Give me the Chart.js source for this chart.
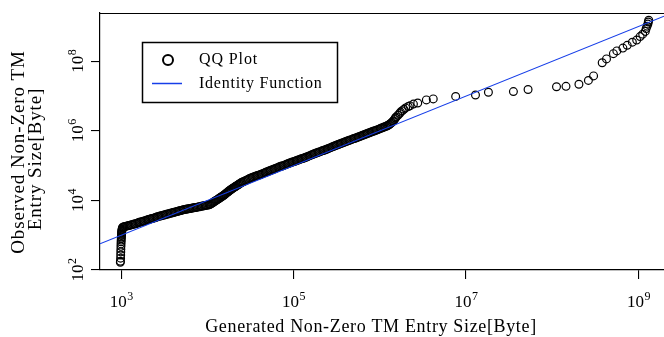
<!DOCTYPE html>
<html>
<head>
<meta charset="utf-8">
<script src="https://cdn.jsdelivr.net/npm/chart.js@4.4.1/dist/chart.umd.min.js"></script>
<style>
html, body { margin: 0; padding: 0; background: #fff; }
#wrap { width: 664px; height: 337px; position: relative; }
</style>
</head>
<body>
<div id="wrap"><canvas id="qq" width="664" height="337"></canvas></div>
<script>
// Quantile pairs, stored as log10(bytes): generated (x) vs observed (y)
const lowerTailGen = [2.990, 2.991, 2.993, 2.994, 2.995, 2.996, 2.997, 2.998, 2.999, 3.000, 3.001, 3.002, 3.003, 3.004, 3.005, 3.006, 3.007, 3.009, 3.011, 3.014, 3.018];
const lowerTailObs = [2.22, 2.25, 2.34, 2.43, 2.52, 2.60, 2.68, 2.75, 2.81, 2.86, 2.91, 2.95, 2.99, 3.03, 3.06, 3.09, 3.12, 3.15, 3.18, 3.21, 3.23];

const bodyLowGen = [
  3.030, 3.045, 3.060, 3.075, 3.090, 3.105, 3.120, 3.135, 3.150, 3.165,
  3.180, 3.195, 3.210, 3.225, 3.240, 3.255, 3.270, 3.285, 3.300, 3.315,
  3.330, 3.345, 3.360, 3.375, 3.390, 3.405, 3.420, 3.435, 3.450, 3.465,
  3.480, 3.495, 3.510, 3.525, 3.540, 3.555, 3.570, 3.585, 3.600, 3.615,
  3.630, 3.645, 3.660, 3.675, 3.690, 3.705, 3.720, 3.735, 3.750, 3.765,
  3.780, 3.795, 3.810, 3.825, 3.840, 3.855, 3.870, 3.885, 3.900, 3.915,
  3.930, 3.945, 3.960, 3.975, 3.990, 4.005, 4.020,
  4.03, 4.04, 4.05, 4.06, 4.07, 4.08, 4.09, 4.10, 4.11, 4.12,
  4.13, 4.14, 4.15, 4.16, 4.17, 4.18, 4.19, 4.20, 4.21, 4.22,
  4.23, 4.24, 4.25, 4.26, 4.27, 4.28, 4.29, 4.30, 4.31, 4.32,
  4.33, 4.34, 4.35, 4.36, 4.37, 4.38, 4.39, 4.40];
const bodyLowObs = [
  3.24, 3.25, 3.26, 3.27, 3.28, 3.29, 3.30, 3.31, 3.32, 3.33,
  3.34, 3.355, 3.37, 3.38, 3.39, 3.40, 3.41, 3.425, 3.44, 3.45,
  3.46, 3.47, 3.48, 3.49, 3.50, 3.515, 3.53, 3.54, 3.55, 3.56,
  3.57, 3.58, 3.59, 3.60, 3.61, 3.62, 3.63, 3.64, 3.65, 3.66,
  3.67, 3.68, 3.69, 3.70, 3.71, 3.72, 3.73, 3.737, 3.745, 3.752,
  3.76, 3.765, 3.77, 3.78, 3.79, 3.795, 3.80, 3.807, 3.815, 3.822,
  3.83, 3.837, 3.845, 3.852, 3.86, 3.867, 3.875,
  3.887, 3.90, 3.915, 3.93, 3.95, 3.97, 3.985, 4.00, 4.015, 4.03,
  4.048, 4.065, 4.083, 4.10, 4.115, 4.13, 4.15, 4.17, 4.19, 4.21,
  4.23, 4.25, 4.27, 4.29, 4.307, 4.325, 4.343, 4.36, 4.375, 4.39,
  4.407, 4.425, 4.44, 4.455, 4.472, 4.49, 4.505, 4.52];

const bodyHighGen = [
  4.415, 4.430, 4.445, 4.460, 4.475, 4.490, 4.505, 4.520, 4.535, 4.550,
  4.565, 4.580, 4.595, 4.610, 4.625, 4.640, 4.655, 4.670, 4.685, 4.700,
  4.715, 4.730, 4.745, 4.760, 4.775, 4.790, 4.805, 4.820, 4.835, 4.850,
  4.865, 4.880, 4.895, 4.910, 4.925, 4.940, 4.955, 4.970, 4.985, 5.000,
  5.015, 5.030, 5.045, 5.060, 5.075, 5.090, 5.105, 5.120, 5.135, 5.150,
  5.165, 5.180, 5.195, 5.210, 5.225, 5.240, 5.255, 5.270, 5.285, 5.300,
  5.315, 5.330, 5.345, 5.360, 5.375, 5.390, 5.405, 5.420, 5.435, 5.450,
  5.465, 5.480, 5.495, 5.510, 5.525, 5.540, 5.555, 5.570, 5.585, 5.600,
  5.615, 5.630, 5.645, 5.660, 5.675, 5.690, 5.705, 5.720, 5.735, 5.750,
  5.765, 5.780, 5.795, 5.810, 5.825, 5.840, 5.855, 5.870, 5.885, 5.900,
  5.915, 5.930, 5.945, 5.960, 5.975, 5.990, 6.005, 6.020, 6.035, 6.050,
  6.065, 6.080,
  6.09, 6.10, 6.11, 6.12, 6.13, 6.14];
const bodyHighObs = [
  4.537, 4.555, 4.572, 4.59, 4.61, 4.63, 4.645, 4.66, 4.675, 4.69,
  4.702, 4.715, 4.727, 4.74, 4.755, 4.77, 4.785, 4.80, 4.815, 4.83,
  4.845, 4.86, 4.875, 4.89, 4.905, 4.92, 4.935, 4.95, 4.965, 4.98,
  4.99, 5.00, 5.015, 5.03, 5.045, 5.06, 5.075, 5.09, 5.102, 5.115,
  5.127, 5.14, 5.155, 5.17, 5.182, 5.195, 5.207, 5.22, 5.235, 5.25,
  5.265, 5.28, 5.295, 5.31, 5.325, 5.34, 5.355, 5.37, 5.382, 5.395,
  5.41, 5.425, 5.437, 5.45, 5.465, 5.48, 5.495, 5.51, 5.525, 5.54,
  5.555, 5.57, 5.585, 5.60, 5.615, 5.63, 5.642, 5.655, 5.67, 5.685,
  5.70, 5.715, 5.727, 5.74, 5.755, 5.77, 5.782, 5.795, 5.81, 5.825,
  5.837, 5.85, 5.865, 5.88, 5.895, 5.91, 5.925, 5.94, 5.952, 5.965,
  5.98, 5.995, 6.007, 6.02, 6.035, 6.05, 6.065, 6.08, 6.095, 6.11,
  6.125, 6.14,
  6.152, 6.165, 6.182, 6.20, 6.222, 6.245];

const upperTailGen = [6.15, 6.16, 6.17, 6.18, 6.19, 6.21, 6.23, 6.24, 6.26, 6.28, 6.30, 6.33, 6.35, 6.39, 6.44, 6.54, 6.62, 6.88, 7.11, 7.26, 7.55,
  7.72, 8.05, 8.16, 8.31, 8.42, 8.48, 8.58, 8.63, 8.71, 8.75, 8.82, 8.87, 8.93, 8.98, 9.02, 9.05, 9.08, 9.09, 9.10, 9.11, 9.115, 9.12];
const upperTailObs = [6.267, 6.29, 6.33, 6.37, 6.40, 6.45, 6.50, 6.54, 6.58, 6.62, 6.66, 6.70, 6.72, 6.77, 6.80, 6.89, 6.92, 6.99, 7.03, 7.11, 7.13,
  7.19, 7.27, 7.28, 7.34, 7.45, 7.58, 7.96, 8.07, 8.22, 8.30, 8.38, 8.46, 8.55, 8.61, 8.71, 8.78, 8.86, 8.94, 9.01, 9.07, 9.13, 9.18];

// Decade exponents that carry a tick and a label
const xTickExp = [3, 5, 7, 9];
const yTickExp = [2, 4, 6, 8];

const xLabel = 'Generated Non-Zero TM Entry Size[Byte]';
const yLabelLines = ['Observed Non-Zero TM', 'Entry Size[Byte]'];
const legendLabels = ['QQ Plot', 'Identity Function'];

const SERIF = '"Liberation Serif", "DejaVu Serif", serif';
const LINE_BLUE = 'rgb(22, 62, 232)';

function toPoints(genArr, obsArr) {
  return genArr.map((g, i) => ({ x: Math.pow(10, g), y: Math.pow(10, obsArr[i]) }));
}
const qqPoints = [].concat(
  toPoints(lowerTailGen, lowerTailObs),
  toPoints(bodyLowGen, bodyLowObs),
  toPoints(bodyHighGen, bodyHighObs),
  toPoints(upperTailGen, upperTailObs)
);

const X_MIN = Math.pow(10, 2.754), X_MAX = Math.pow(10, 9.297);
const Y_MIN = Math.pow(10, 2.0),   Y_MAX = Math.pow(10, 9.389);

// Draws "10" with a raised exponent, centred on (cx, baseline)
function drawPower(ctx, exp, cx, baseline) {
  ctx.font = '17px ' + SERIF;
  const w1 = ctx.measureText('10').width;
  ctx.font = '12px ' + SERIF;
  const w2 = ctx.measureText(String(exp)).width;
  const start = cx - (w1 + w2) / 2;
  ctx.font = '17px ' + SERIF;
  ctx.fillText('10', start, baseline);
  ctx.font = '12px ' + SERIF;
  ctx.fillText(String(exp), start + w1 + 0.5, baseline - 7);
}

const decorations = {
  id: 'decorations',
  afterDraw(chart) {
    const ctx = chart.ctx;
    const area = chart.chartArea;
    const xs = chart.scales.x, ys = chart.scales.y;
    ctx.save();
    ctx.fillStyle = '#000';
    ctx.strokeStyle = '#000';
    ctx.textAlign = 'left';
    ctx.textBaseline = 'alphabetic';

    // top frame line
    ctx.lineWidth = 1.2;
    ctx.beginPath();
    ctx.moveTo(area.left, area.top + 0.5);
    ctx.lineTo(area.right, area.top + 0.5);
    ctx.stroke();

    // x tick labels
    xTickExp.forEach(e => drawPower(ctx, e, xs.getPixelForValue(Math.pow(10, e)), 307));

    // y tick labels, rotated to read upwards
    yTickExp.forEach(e => {
      ctx.save();
      ctx.translate(83, ys.getPixelForValue(Math.pow(10, e)));
      ctx.rotate(-Math.PI / 2);
      drawPower(ctx, e, 0, 0);
      ctx.restore();
    });

    // axis titles
    ctx.font = '18px ' + SERIF;
    ctx.letterSpacing = '0.65px';
    ctx.textAlign = 'center';
    ctx.fillText(xLabel, 371, 332);

    ctx.font = '19px ' + SERIF;
    ctx.letterSpacing = '0.9px';
    const yCentres = [[24, 152], [41, 159]];
    yLabelLines.forEach((line, i) => {
      ctx.save();
      ctx.translate(yCentres[i][0], yCentres[i][1]);
      ctx.rotate(-Math.PI / 2);
      ctx.fillText(line, 0, 0);
      ctx.restore();
    });

    // legend box
    ctx.letterSpacing = '0px';
    ctx.lineWidth = 1.5;
    ctx.strokeRect(142.5, 42.5, 195, 60);
    ctx.lineWidth = 2;
    ctx.beginPath();
    ctx.arc(168, 60, 5, 0, Math.PI * 2);
    ctx.stroke();
    ctx.strokeStyle = LINE_BLUE;
    ctx.lineWidth = 1.5;
    ctx.beginPath();
    ctx.moveTo(152, 83.5);
    ctx.lineTo(182, 83.5);
    ctx.stroke();
    ctx.font = '16px ' + SERIF;
    ctx.textAlign = 'left';
    ctx.textBaseline = 'middle';
    ctx.letterSpacing = '0.9px';
    ctx.fillText(legendLabels[0], 199, 60);
    ctx.letterSpacing = '0.75px';
    ctx.fillText(legendLabels[1], 199, 84);
    ctx.restore();
  }
};

const axisCommon = {
  type: 'logarithmic',
  border: { display: true, color: '#000', width: 1.2 },
  grid: { display: true, drawOnChartArea: false, drawTicks: true, tickLength: 9, color: '#000', lineWidth: 1.1 },
  ticks: { display: false }
};

new Chart(document.getElementById('qq'), {
  data: {
    datasets: [
      {
        type: 'line',
        label: legendLabels[1],
        data: [{ x: X_MIN, y: X_MIN }, { x: X_MAX, y: X_MAX }],
        borderColor: LINE_BLUE,
        borderWidth: 1.2,
        pointRadius: 0,
        fill: false
      },
      {
        type: 'scatter',
        label: legendLabels[0],
        data: qqPoints,
        pointStyle: 'circle',
        pointRadius: 3.9,
        pointBorderWidth: 1.2,
        borderColor: '#000',
        backgroundColor: 'rgba(0,0,0,0)'
      }
    ]
  },
  options: {
    responsive: false,
    animation: false,
    devicePixelRatio: 1,
    layout: { autoPadding: false, padding: { top: 13, left: 0, right: 0, bottom: 0 } },
    plugins: { legend: { display: false }, tooltip: { enabled: false } },
    scales: {
      x: Object.assign({}, axisCommon, {
        position: 'bottom',
        min: X_MIN, max: X_MAX,
        afterBuildTicks: s => { s.ticks = xTickExp.map(e => ({ value: Math.pow(10, e) })); },
        afterFit: s => { s.height = 67; }
      }),
      y: Object.assign({}, axisCommon, {
        position: 'left',
        min: Y_MIN, max: Y_MAX,
        afterBuildTicks: s => { s.ticks = yTickExp.map(e => ({ value: Math.pow(10, e) })); },
        afterFit: s => { s.width = 100; }
      })
    }
  },
  plugins: [decorations]
});
</script>
</body>
</html>
